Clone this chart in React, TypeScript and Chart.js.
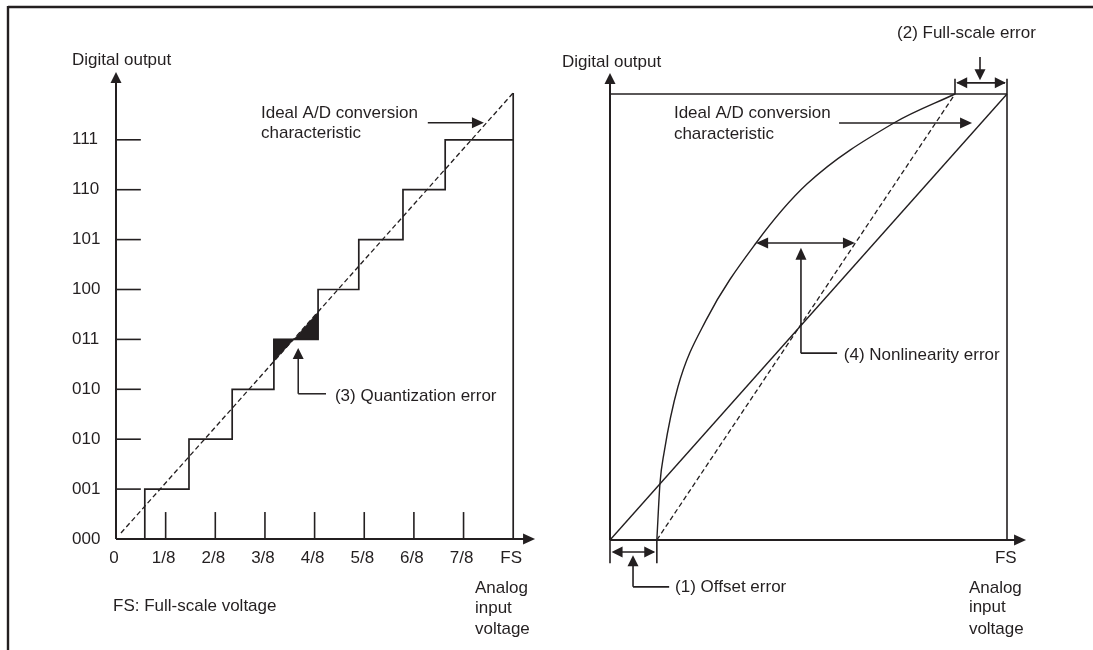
import React, { useEffect, useRef } from "react";
import { Chart, registerables } from "chart.js";

Chart.register(...registerables);

// ---------- Left panel: quantization (x in eighths of FS, y = output code index) ----------
const codeLabels = ["000", "001", "010", "010", "011", "100", "101", "110", "111"];
const inputLabels = ["0", "1/8", "2/8", "3/8", "4/8", "5/8", "6/8", "7/8", "FS"];
const stepEdges = [0.58, 1.47, 2.34, 3.18, 4.07, 4.89, 5.78, 6.63]; // input where code steps up
const stairEndX = 8;
const fsLineX = [8, 8];
const fsLineY = [0, 8.94];
const idealLeftX = [0.1, 8];
const idealLeftY = [0.12, 8.94];
const quantAX = [3.18, 3.18, 3.58, 3.18];
const quantAY = [4, 3.56, 4, 4];
const quantBX = [3.58, 4.07, 4.07, 3.58];
const quantBY = [4, 4, 4.55, 4];

// ---------- Right panel: errors (x, y normalised to full scale) ----------
const idealRightX = [0, 1];
const idealRightY = [0, 1];
const shiftedX = [0.118, 0.869];
const shiftedY = [0, 1];
const curveX = [0.118, 0.126, 0.136, 0.171, 0.242, 0.368, 0.496, 0.715, 0.869];
const curveY = [0, 0.128, 0.195, 0.343, 0.493, 0.666, 0.798, 0.935, 1.0];

const ink = "#231f20";
const FONT = '17px "Liberation Sans", Arial, Helvetica, sans-serif';

const pts = (xs: number[], ys: number[]) => xs.map((x, i) => ({ x, y: ys[i] }));

function stairPoints() {
  const p: { x: number; y: number }[] = [];
  stepEdges.forEach((e, i) => {
    p.push({ x: e, y: i });
    p.push({ x: e, y: i + 1 });
  });
  p.push({ x: stairEndX, y: stepEdges.length });
  return p;
}

function seg(ctx: CanvasRenderingContext2D, x1: number, y1: number, x2: number, y2: number) {
  ctx.beginPath();
  ctx.moveTo(x1, y1);
  ctx.lineTo(x2, y2);
  ctx.stroke();
}

function head(ctx: CanvasRenderingContext2D, x: number, y: number, ang: number, len = 11, half = 5) {
  ctx.save();
  ctx.translate(x, y);
  ctx.rotate(ang);
  ctx.beginPath();
  ctx.moveTo(0, 0);
  ctx.lineTo(-len, -half);
  ctx.lineTo(-len, half);
  ctx.closePath();
  ctx.fill();
  ctx.restore();
}

const UP = -Math.PI / 2;
const DOWN = Math.PI / 2;
const RIGHT = 0;
const LEFT = Math.PI;

function text(ctx: CanvasRenderingContext2D, s: string, x: number, y: number, align: CanvasTextAlign = "left") {
  ctx.textAlign = align;
  ctx.textBaseline = "middle";
  ctx.fillText(s, x, y);
}

const leftDecor = {
  id: "leftDecor",
  afterDraw(chart: any) {
    const ctx: CanvasRenderingContext2D = chart.ctx;
    const X = (v: number) => chart.scales.x.getPixelForValue(v);
    const Y = (v: number) => chart.scales.y.getPixelForValue(v);
    ctx.save();
    ctx.strokeStyle = ink;
    ctx.fillStyle = ink;
    // page frame
    ctx.lineWidth = 2.4;
    seg(ctx, 8, 7, 1093, 7);
    seg(ctx, 8, 6, 8, 650);
    // axes
    ctx.lineWidth = 2;
    seg(ctx, X(0), Y(0), X(0), Y(9.2));
    head(ctx, X(0), Y(9.36), UP, 11, 5.5);
    seg(ctx, X(0), Y(0), X(8.3), Y(0));
    head(ctx, X(8.44), Y(0), RIGHT, 12, 5.5);
    ctx.lineWidth = 1.6;
    for (let i = 1; i < codeLabels.length; i++) seg(ctx, X(0), Y(i), X(0.5), Y(i));
    for (let i = 1; i < inputLabels.length - 1; i++) seg(ctx, X(i), Y(0), X(i), Y(0.54));
    ctx.font = FONT;
    codeLabels.forEach((l, i) => text(ctx, l, X(-0.886), Y(i)));
    inputLabels.forEach((l, i) => text(ctx, l, X(i - 0.04), Y(-0.38), "center"));
    text(ctx, "Digital output", X(-0.886), Y(9.6));
    // ideal label + arrow
    text(ctx, "Ideal A/D conversion", X(2.92), Y(8.54));
    text(ctx, "characteristic", X(2.92), Y(8.12));
    ctx.lineWidth = 1.5;
    seg(ctx, X(6.28), Y(8.34), X(7.2), Y(8.34));
    head(ctx, X(7.41), Y(8.34), RIGHT, 12, 5.5);
    // quantization error arrow
    seg(ctx, X(3.67), Y(3.7), X(3.67), Y(2.91));
    seg(ctx, X(3.67), Y(2.91), X(4.23), Y(2.91));
    head(ctx, X(3.67), Y(3.83), UP, 11, 5.5);
    text(ctx, "(3) Quantization error", X(4.41), Y(2.85));
    text(ctx, "FS: Full-scale voltage", X(-0.06), Y(-1.34));
    text(ctx, "Analog", X(7.23), Y(-0.98));
    text(ctx, "input", X(7.23), Y(-1.38));
    text(ctx, "voltage", X(7.23), Y(-1.8));
    ctx.restore();
  },
};

const rightDecor = {
  id: "rightDecor",
  afterDraw(chart: any) {
    const ctx: CanvasRenderingContext2D = chart.ctx;
    const X = (v: number) => chart.scales.x.getPixelForValue(v);
    const Y = (v: number) => chart.scales.y.getPixelForValue(v);
    ctx.save();
    ctx.strokeStyle = ink;
    ctx.fillStyle = ink;
    ctx.lineWidth = 2;
    // axes
    seg(ctx, X(0), Y(0), X(0), Y(1.03));
    head(ctx, X(0), Y(1.047), UP, 11, 5.5);
    seg(ctx, X(0), Y(0), X(1.03), Y(0));
    head(ctx, X(1.048), Y(0), RIGHT, 12, 5.5);
    ctx.lineWidth = 1.6;
    // full-scale frame
    seg(ctx, X(0), Y(1), X(1), Y(1));
    seg(ctx, X(1), Y(0), X(1), Y(1.034));
    seg(ctx, X(0.869), Y(1), X(0.869), Y(1.034));
    // full-scale error double arrow
    seg(ctx, X(0.875), Y(1.025), X(0.995), Y(1.025));
    head(ctx, X(0.872), Y(1.025), LEFT, 11, 5.5);
    head(ctx, X(0.997), Y(1.025), RIGHT, 11, 5.5);
    seg(ctx, X(0.932), Y(1.083), X(0.932), Y(1.04));
    head(ctx, X(0.932), Y(1.031), DOWN, 11, 5.5);
    // offset markers
    seg(ctx, X(0), Y(0), X(0), Y(-0.052));
    seg(ctx, X(0.118), Y(0), X(0.118), Y(-0.052));
    seg(ctx, X(0.01), Y(-0.027), X(0.11), Y(-0.027));
    head(ctx, X(0.004), Y(-0.027), LEFT, 11, 5.5);
    head(ctx, X(0.114), Y(-0.027), RIGHT, 11, 5.5);
    seg(ctx, X(0.058), Y(-0.05), X(0.058), Y(-0.105));
    seg(ctx, X(0.058), Y(-0.105), X(0.149), Y(-0.105));
    head(ctx, X(0.058), Y(-0.034), UP, 11, 5.5);
    // nonlinearity
    seg(ctx, X(0.375), Y(0.666), X(0.61), Y(0.666));
    head(ctx, X(0.368), Y(0.666), LEFT, 12, 5.5);
    head(ctx, X(0.617), Y(0.666), RIGHT, 12, 5.5);
    seg(ctx, X(0.481), Y(0.63), X(0.481), Y(0.419));
    seg(ctx, X(0.481), Y(0.419), X(0.572), Y(0.419));
    head(ctx, X(0.481), Y(0.655), UP, 12, 5.5);
    // ideal label arrow
    seg(ctx, X(0.577), Y(0.935), X(0.89), Y(0.935));
    head(ctx, X(0.912), Y(0.935), RIGHT, 12, 5.5);
    ctx.font = FONT;
    text(ctx, "Digital output", X(-0.121), Y(1.07));
    text(ctx, "Ideal A/D conversion", X(0.161), Y(0.957));
    text(ctx, "characteristic", X(0.161), Y(0.91));
    text(ctx, "(2) Full-scale error", X(0.723), Y(1.135));
    text(ctx, "(4) Nonlinearity error", X(0.589), Y(0.413));
    text(ctx, "(1) Offset error", X(0.164), Y(-0.105));
    text(ctx, "FS", X(0.997), Y(-0.04), "center");
    text(ctx, "Analog", X(0.904), Y(-0.108));
    text(ctx, "input", X(0.904), Y(-0.152));
    text(ctx, "voltage", X(0.904), Y(-0.2));
    ctx.restore();
  },
};

const baseOptions = (pad: any, xmax: number, ymax: number) => ({
  animation: false as const,
  responsive: false,
  devicePixelRatio: 1,
  events: [],
  layout: { padding: pad },
  plugins: { legend: { display: false }, tooltip: { enabled: false } },
  elements: { point: { radius: 0 } },
  scales: {
    x: { type: "linear" as const, min: 0, max: xmax, display: false },
    y: { type: "linear" as const, min: 0, max: ymax, display: false },
  },
});

export default function App() {
  const leftRef = useRef<HTMLCanvasElement>(null);
  const rightRef = useRef<HTMLCanvasElement>(null);

  useEffect(() => {
    const common = { showLine: true, pointRadius: 0, borderColor: ink, clip: false as any, tension: 0 };
    const left = new Chart(leftRef.current!, {
      type: "scatter",
      data: {
        datasets: [
          { ...common, data: stairPoints(), borderWidth: 1.7 },
          { ...common, data: pts(fsLineX, fsLineY), borderWidth: 1.7 },
          { ...common, data: pts(idealLeftX, idealLeftY), borderWidth: 1.3, borderDash: [5, 3] },
          { ...common, data: pts(quantAX, quantAY), borderWidth: 0.5, backgroundColor: ink, fill: "shape" },
          { ...common, data: pts(quantBX, quantBY), borderWidth: 0.5, backgroundColor: ink, fill: "shape" },
        ],
      } as any,
      options: baseOptions({ left: 116, right: 1093 - 513.2, top: 539 - 8 * 49.9, bottom: 111 }, 8, 8) as any,
      plugins: [leftDecor],
    });
    const right = new Chart(rightRef.current!, {
      type: "scatter",
      data: {
        datasets: [
          { ...common, data: pts(idealRightX, idealRightY), borderWidth: 1.4 },
          { ...common, data: pts(shiftedX, shiftedY), borderWidth: 1.3, borderDash: [5, 3] },
          { ...common, data: pts(curveX, curveY), borderWidth: 1.4, cubicInterpolationMode: "monotone" },
        ],
      } as any,
      options: baseOptions({ left: 610, right: 1093 - 1007, top: 94, bottom: 110 }, 1, 1) as any,
      plugins: [rightDecor],
    });
    return () => {
      left.destroy();
      right.destroy();
    };
  }, []);

  const cv: React.CSSProperties = { position: "absolute", left: 0, top: 0, width: 1093, height: 650 };
  return (
    <div style={{ position: "absolute", left: 0, top: 0, width: 1093, height: 650, background: "#fff", overflow: "hidden" }}>
      <canvas ref={leftRef} width={1093} height={650} style={cv} />
      <canvas ref={rightRef} width={1093} height={650} style={cv} />
    </div>
  );
}
